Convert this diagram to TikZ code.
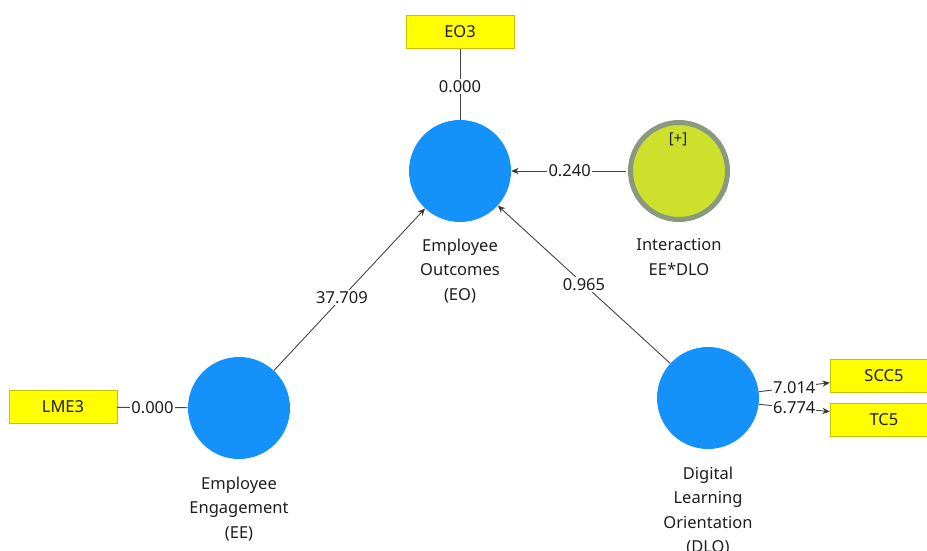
\documentclass[tikz,border=0pt]{standalone}
\usepackage{fontspec}
\setmainfont{Noto Sans}
\usetikzlibrary{arrows.meta,calc}
\definecolor{lvblue}{HTML}{1591FA}
\definecolor{indy}{HTML}{FFFF00}
\definecolor{indyb}{HTML}{C9C000}
\definecolor{intfill}{HTML}{CCE02C}
\definecolor{intbord}{HTML}{8A9880}
\definecolor{edgec}{HTML}{444444}
\definecolor{txt}{HTML}{1E1E1E}
\begin{document}
\begin{tikzpicture}[x=1pt,y=-1pt,
  latent/.style={circle, fill=lvblue, minimum size=102pt, inner sep=0pt},
  inter/.style={circle, fill=intfill, draw=intbord, line width=5pt, minimum size=97pt, inner sep=0pt},
  ind/.style={draw=indyb, fill=indy, minimum width=108pt, minimum height=33pt, inner sep=0pt, text=txt, font=\fontsize{16.5}{19}\selectfont},
  lbl/.style={align=center, inner sep=0pt, text=txt, font=\fontsize{16.5}{24.5}\selectfont},
  val/.style={fill=white, inner sep=1.5pt, text=txt, font=\fontsize{16.5}{19}\selectfont},
  edge/.style={draw=edgec, line width=0.9pt},
  arr/.style={edge, -{Stealth[length=7.5pt,width=6.5pt,fill=black]}}]
\useasboundingbox (0,0) rectangle (927,551);

% latent variables
\node[latent] (eo) at (460,171) {};
\node[inter] (int) at (679,171) {};
\node[text=txt, inner sep=0pt, font=\fontsize{15}{17}\selectfont] (intmark) at (678,139) {[+]};
\node[latent] (ee) at (239,408) {};
\node[latent] (dlo) at (708,398) {};

% indicators
\node[ind] (eo3) at (460,32) {EO3};
\node[ind] (lme3) at (63,407) {LME3};
\node[ind] (scc5) at (884,376) {SCC5};
\node[ind] (tc5) at (884,420) {TC5};

% labels
\node[lbl, anchor=north] (eolbl) at (460,238.5) {Employee\\Outcomes\\(EO)};
\node[lbl, anchor=north] (intlbl) at (679,238.5) {Interaction\\EE*DLO};
\node[lbl, anchor=north] (eelbl) at (239,476.5) {Employee\\Engagement\\(EE)};
\node[lbl, anchor=north] (dlolbl) at (708,466.5) {Digital\\Learning\\Orientation\\(DLO)};

% connectors
\draw[edge] (eo3) -- node[val, pos=0.53] (v1) {0.000} (eo);
\draw[arr, shorten <=2.5pt] (int) -- node[val, pos=0.5] (v2) {0.240} (eo);
\draw[arr] (ee) -- node[val, pos=0.45] (v3) {37.709} (eo);
\draw[arr] (dlo) -- node[val, pos=0.5] (v4) {0.965} (eo);
\draw[edge] (lme3) -- node[val, pos=0.5] (v5) {0.000} (ee);
\coordinate (sccin) at ($(scc5.south west)!0.3!(scc5.north west)$);
\coordinate (tcin) at ($(tc5.south west)!0.75!(tc5.north west)$);
\draw[arr] (dlo.7) -- node[val, pos=0.5, inner sep=1pt] (v6) {7.014} (sccin);
\draw[arr] (dlo.-7) -- node[val, pos=0.5, inner sep=1pt] (v7) {6.774} (tcin);
\end{tikzpicture}
\end{document}
